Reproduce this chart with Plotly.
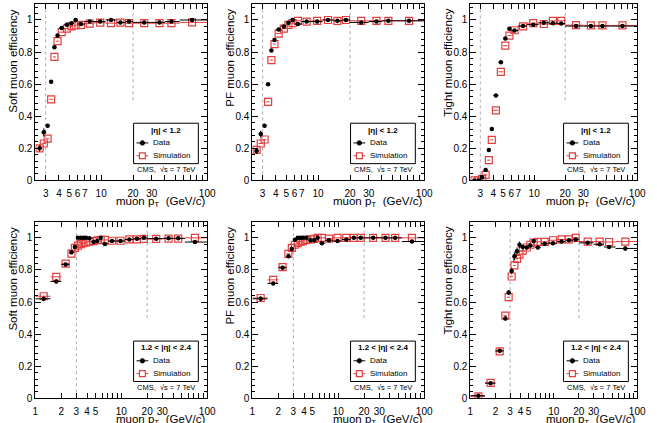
import math
import plotly.graph_objects as go

W, H = 657, 423
FONT = "Liberation Sans, Arial, Helvetica, sans-serif"
RED = "rgb(228,62,62)"

# ---------------- data ----------------
# |eta| < 1.2 binning (top row)
pt_top = [2.63, 2.88, 3.13, 3.38, 3.63, 3.88, 4.25, 4.75, 5.25, 5.75, 6.45, 7.8, 9.8, 12.4, 15.2, 18.3, 25.5, 35.5, 46, 72]
pt_top_lo = [2.5, 2.75, 3.0, 3.25, 3.5, 3.75, 4.0, 4.5, 5.0, 5.5, 6.0, 7.0, 8.5, 11, 14, 17, 20, 30, 40, 55]
pt_top_hi = [2.75, 3.0, 3.25, 3.5, 3.75, 4.0, 4.5, 5.0, 5.5, 6.0, 7.0, 8.5, 11, 14, 17, 20, 30, 40, 55, 100]

# 1.2 < |eta| < 2.4 binning (bottom row)
pt_bot = [1.25, 1.75, 2.25, 2.63, 2.88, 3.13, 3.38, 3.63, 3.88, 4.25, 4.75, 5.25, 5.75, 6.45, 7.8, 9.8, 12.4, 15.2, 18.3, 25.5, 35.5, 46, 72]
pt_bot_lo = [1.0, 1.5, 2.0, 2.5, 2.75, 3.0, 3.25, 3.5, 3.75, 4.0, 4.5, 5.0, 5.5, 6.0, 7.0, 8.5, 11, 14, 17, 20, 30, 40, 55]
pt_bot_hi = [1.5, 2.0, 2.5, 2.75, 3.0, 3.25, 3.5, 3.75, 4.0, 4.5, 5.0, 5.5, 6.0, 7.0, 8.5, 11, 14, 17, 20, 30, 40, 55, 100]

# Soft muon, |eta|<1.2
soft_b_data = [0.20, 0.30, 0.34, 0.615, 0.83, 0.903, 0.95, 0.97, 0.98, 1.0, 0.975, 0.99, 0.99, 1.0, 0.985, 0.99, 0.985, 0.985, 0.99, 1.0]
soft_b_derr = [0.02, 0.025, 0.012, 0.01, 0.008, 0.006, 0.005, 0.004, 0.004, 0.004, 0.004, 0.003, 0.003, 0.003, 0.003, 0.003, 0.003, 0.004, 0.005, 0.006]
soft_b_sim = [0.20, 0.23, 0.26, 0.505, 0.77, 0.868, 0.924, 0.946, 0.96, 0.967, 0.97, 0.977, 0.983, 0.98, 0.983, 0.98, 0.98, 0.98, 0.98, 0.985]
# PF muon, |eta|<1.2
pf_b_data = [0.184, 0.29, 0.34, 0.60, 0.81, 0.875, 0.94, 0.96, 0.983, 1.0, 0.975, 0.99, 0.99, 1.0, 0.995, 1.0, 0.985, 0.99, 0.995, 0.995]
pf_b_derr = [0.02, 0.02, 0.012, 0.01, 0.008, 0.006, 0.005, 0.004, 0.004, 0.004, 0.004, 0.003, 0.003, 0.003, 0.003, 0.003, 0.003, 0.004, 0.005, 0.006]
pf_b_sim = [0.19, 0.23, 0.255, 0.49, 0.75, 0.85, 0.915, 0.946, 0.97, 0.98, 0.995, 0.99, 0.995, 1.0, 0.995, 1.0, 0.995, 0.995, 0.995, 0.995]
# Tight muon, |eta|<1.2
tight_b_data = [0.0, 0.0, 0.02, 0.065, 0.19, 0.32, 0.53, 0.737, 0.884, 0.946, 0.934, 0.963, 0.971, 0.983, 0.98, 0.978, 0.962, 0.962, 0.962, 0.962]
tight_b_derr = [0.003, 0.003, 0.005, 0.008, 0.008, 0.008, 0.008, 0.007, 0.006, 0.005, 0.005, 0.004, 0.004, 0.003, 0.003, 0.003, 0.004, 0.005, 0.006, 0.008]
tight_b_sim = [0.0, 0.0, 0.01, 0.035, 0.126, 0.253, 0.437, 0.677, 0.84, 0.903, 0.936, 0.96, 0.98, 0.975, 0.995, 0.995, 0.968, 0.966, 0.966, 0.966]

# Soft muon, 1.2<|eta|<2.4
soft_e_data = [0.62, 0.728, 0.834, 0.91, 0.943, 1.0, 1.0, 1.0, 1.0, 0.998, 0.974, 0.98, 1.0, 0.962, 0.98, 0.98, 0.99, 0.995, 1.0, 0.995, 0.997, 0.997, 0.974]
soft_e_derr = [0.015, 0.012, 0.01, 0.01, 0.01, 0.006, 0.006, 0.005, 0.005, 0.005, 0.005, 0.005, 0.005, 0.005, 0.004, 0.004, 0.004, 0.004, 0.004, 0.004, 0.005, 0.006, 0.01]
soft_e_sim = [0.636, 0.757, 0.839, 0.902, 0.937, 0.951, 0.961, 0.967, 0.971, 0.977, 0.98, 0.985, 0.987, 0.987, 0.982, 0.982, 0.99, 0.99, 0.993, 0.993, 0.995, 0.995, 1.0]
# PF muon, 1.2<|eta|<2.4
pf_e_data = [0.62, 0.716, 0.814, 0.885, 0.93, 0.988, 1.0, 1.0, 1.0, 1.0, 0.985, 0.985, 1.0, 0.967, 0.985, 0.98, 0.99, 1.0, 1.0, 1.0, 1.0, 1.0, 0.977]
pf_e_derr = [0.015, 0.012, 0.01, 0.012, 0.01, 0.006, 0.006, 0.005, 0.005, 0.005, 0.005, 0.005, 0.005, 0.005, 0.004, 0.004, 0.004, 0.004, 0.004, 0.004, 0.005, 0.006, 0.01]
pf_e_sim = [0.625, 0.738, 0.818, 0.90, 0.937, 0.957, 0.967, 0.977, 0.98, 0.987, 0.99, 0.993, 1.0, 1.0, 0.995, 1.0, 1.0, 1.0, 1.0, 1.0, 1.0, 1.0, 1.0]
# Tight muon, 1.2<|eta|<2.4
tight_e_data = [0.016, 0.094, 0.296, 0.497, 0.66, 0.793, 0.885, 0.916, 0.957, 0.943, 0.94, 0.953, 0.98, 0.94, 0.963, 0.967, 0.977, 0.985, 0.99, 0.969, 0.96, 0.943, 0.934]
tight_e_derr = [0.005, 0.006, 0.008, 0.012, 0.015, 0.02, 0.025, 0.025, 0.02, 0.015, 0.012, 0.012, 0.012, 0.01, 0.006, 0.006, 0.005, 0.005, 0.006, 0.006, 0.008, 0.01, 0.015]
tight_e_sim = [0.012, 0.096, 0.292, 0.515, 0.63, 0.759, 0.828, 0.869, 0.896, 0.92, 0.94, 0.957, 0.97, 0.975, 0.975, 0.985, 0.99, 0.99, 1.0, 0.977, 0.977, 0.974, 0.977]

y_titles = ["Soft muon efficiency", "PF muon efficiency", "Tight muon efficiency"]
eta_labels = ["<b>|η| &lt; 1.2</b>", "<b>1.2 &lt; |η| &lt; 2.4</b>"]
legend_names = ["Data", "Simulation"]
x_title = "muon p<sub>T</sub>  (GeV/c)"
cms_label = "CMS,  √s = 7 TeV"

top_tickvals = [3, 4, 5, 6, 7, 8, 9, 10, 20, 30, 40, 50, 60, 70, 80, 90, 100]
top_ticklabels = ["3", "4", "5", "6", "7", "", "", "10", "20", "30", "", "", "", "", "", "", "100"]
bot_tickvals = [1, 2, 3, 4, 5, 6, 7, 8, 9, 10, 20, 30, 40, 50, 60, 70, 80, 90, 100]
bot_ticklabels = ["1", "2", "3", "4", "5", "", "", "", "", "10", "20", "30", "", "", "", "", "", "", "100"]
x_range_top = [2.4, 100]
x_range_bot = [1, 100]

cut_x = [3, 20]          # dotted reference lines
cut_ylo = [0.0, 0.5]
cut_yhi = [1.1, 1.1]

panels = [
    (0, 0, soft_b_data, soft_b_derr, soft_b_sim),
    (0, 1, pf_b_data, pf_b_derr, pf_b_sim),
    (0, 2, tight_b_data, tight_b_derr, tight_b_sim),
    (1, 0, soft_e_data, soft_e_derr, soft_e_sim),
    (1, 1, pf_e_data, pf_e_derr, pf_e_sim),
    (1, 2, tight_e_data, tight_e_derr, tight_e_sim),
]

# ---------------- layout geometry (pixels) ----------------
cols_px = [(33, 208), (254, 429), (476, 646)]
rows_px = [(4, 183), (225, 404)]


def px(xp):
    return xp / W


def py(yp):
    return 1 - yp / H


fig = go.Figure()
layout = dict(
    width=W, height=H, margin=dict(l=0, r=0, t=0, b=0),
    paper_bgcolor="white", plot_bgcolor="white",
    font=dict(family=FONT, color="black", size=10),
    showlegend=False, annotations=[], shapes=[],
)
ann = layout["annotations"]
shp = layout["shapes"]

for i, (r, c, dat, derr, sim) in enumerate(panels):
    k = i + 1
    xa = "x" if k == 1 else f"x{k}"
    ya = "y" if k == 1 else f"y{k}"
    x0p, x1p = cols_px[c]
    y0p, y1p = rows_px[r]

    if r == 0:
        pt, lo, hi = pt_top, pt_top_lo, pt_top_hi
        tv, tt, xr = top_tickvals, top_ticklabels, x_range_top
    else:
        pt, lo, hi = pt_bot, pt_bot_lo, pt_bot_hi
        tv, tt, xr = bot_tickvals, bot_ticklabels, x_range_bot

    ex_plus = [h - p for h, p in zip(hi, pt)]
    ex_minus = [p - l for p, l in zip(pt, lo)]

    # reference dotted lines
    for cx, cl, ch in zip(cut_x, cut_ylo, cut_yhi):
        fig.add_trace(go.Scatter(x=[cx, cx], y=[cl, ch], mode="lines",
                                 line=dict(color="rgb(170,170,170)", width=1, dash="dot"),
                                 xaxis=xa, yaxis=ya, hoverinfo="skip"))

    # simulation
    fig.add_trace(go.Scatter(
        x=pt, y=sim, mode="markers", xaxis=xa, yaxis=ya, name="Simulation",
        marker=dict(symbol="square-open", size=7, color=RED, line=dict(width=1.2, color=RED)),
        error_x=dict(type="data", symmetric=False, array=ex_plus, arrayminus=ex_minus,
                     color=RED, thickness=1, width=0),
    ))
    # data
    fig.add_trace(go.Scatter(
        x=pt, y=dat, mode="markers", xaxis=xa, yaxis=ya, name="Data",
        marker=dict(symbol="circle", size=4.5, color="black"),
        error_x=dict(type="data", symmetric=False, array=ex_plus, arrayminus=ex_minus,
                     color="black", thickness=1, width=0),
        error_y=dict(type="data", array=derr, color="black", thickness=1, width=0),
    ))

    xkey = "xaxis" if k == 1 else f"xaxis{k}"
    ykey = "yaxis" if k == 1 else f"yaxis{k}"
    layout[xkey] = dict(
        type="log", domain=[px(x0p), px(x1p)], anchor=ya,
        range=[math.log10(xr[0]), math.log10(xr[1])],
        tickmode="array", tickvals=tv, ticktext=tt, tickangle=0,
        ticks="inside", ticklen=5, tickcolor="black", tickwidth=1,
        ticklabelstandoff=4, ticklabeloverflow="allow",
        showline=True, linecolor="black", linewidth=1, mirror="ticks",
        showgrid=False, zeroline=False, tickfont=dict(size=10, family=FONT),
    )
    layout[ykey] = dict(
        domain=[py(y1p), py(y0p)], anchor=xa, range=[0, 1.1], tick0=0, dtick=0.2,
        ticks="inside", ticklen=6, tickcolor="black", tickwidth=1,
        minor=dict(dtick=0.04, ticklen=3, ticks="inside", tickcolor="black", showgrid=False),
        showline=True, linecolor="black", linewidth=1, mirror="ticks",
        showgrid=False, zeroline=False, tickfont=dict(size=10, family=FONT),
    )

    # axis titles
    ann.append(dict(text=x_title, xref="paper", yref="paper", x=px(x1p), xanchor="right",
                    y=py(y1p + 22), yanchor="middle", showarrow=False,
                    font=dict(size=11.5, family=FONT)))
    ann.append(dict(text=y_titles[c], xref="paper", yref="paper", x=px(x0p - 23), xanchor="center",
                    y=py(y0p + 3), yanchor="top", textangle=-90, showarrow=False,
                    font=dict(size=11.5, family=FONT)))

    # ROOT-style legend box (drawn by hand)
    bx0, bx1 = x1p - 75, x1p - 9
    by0, by1 = y0p + 121, y0p + 162
    shp.append(dict(type="rect", xref="paper", yref="paper", x0=px(bx0), x1=px(bx1),
                    y0=py(by1), y1=py(by0), line=dict(color="black", width=1),
                    fillcolor="white", layer="above"))
    ann.append(dict(text=eta_labels[r], xref="paper", yref="paper", x=px((bx0 + bx1) / 2),
                    xanchor="center", y=py(y0p + 128), yanchor="middle", showarrow=False,
                    font=dict(size=8, family=FONT)))
    rows_y = [y0p + 141, y0p + 154]
    cols_leg = ["black", RED]
    for j, (ry, col, nm) in enumerate(zip(rows_y, cols_leg, legend_names)):
        shp.append(dict(type="line", xref="paper", yref="paper", x0=px(bx0 + 3), x1=px(bx0 + 15),
                        y0=py(ry), y1=py(ry), line=dict(color=col, width=1), layer="above"))
        if j == 0:
            shp.append(dict(type="circle", xref="paper", yref="paper",
                            x0=px(bx0 + 9 - 2.2), x1=px(bx0 + 9 + 2.2),
                            y0=py(ry + 2.2), y1=py(ry - 2.2),
                            line=dict(color="black", width=1), fillcolor="black", layer="above"))
        else:
            shp.append(dict(type="rect", xref="paper", yref="paper",
                            x0=px(bx0 + 9 - 3), x1=px(bx0 + 9 + 3),
                            y0=py(ry + 3), y1=py(ry - 3),
                            line=dict(color=RED, width=1.2), fillcolor="white", layer="above"))
        ann.append(dict(text=nm, xref="paper", yref="paper", x=px(bx0 + 18), xanchor="left",
                        y=py(ry), yanchor="middle", showarrow=False,
                        font=dict(size=8, family=FONT)))
    ann.append(dict(text=cms_label, xref="paper", yref="paper", x=px(x1p - 10), xanchor="right",
                    y=py(y0p + 168), yanchor="middle", showarrow=False,
                    font=dict(size=7.5, family=FONT)))

fig.update_layout(**layout)
fig.write_html("out.html")
